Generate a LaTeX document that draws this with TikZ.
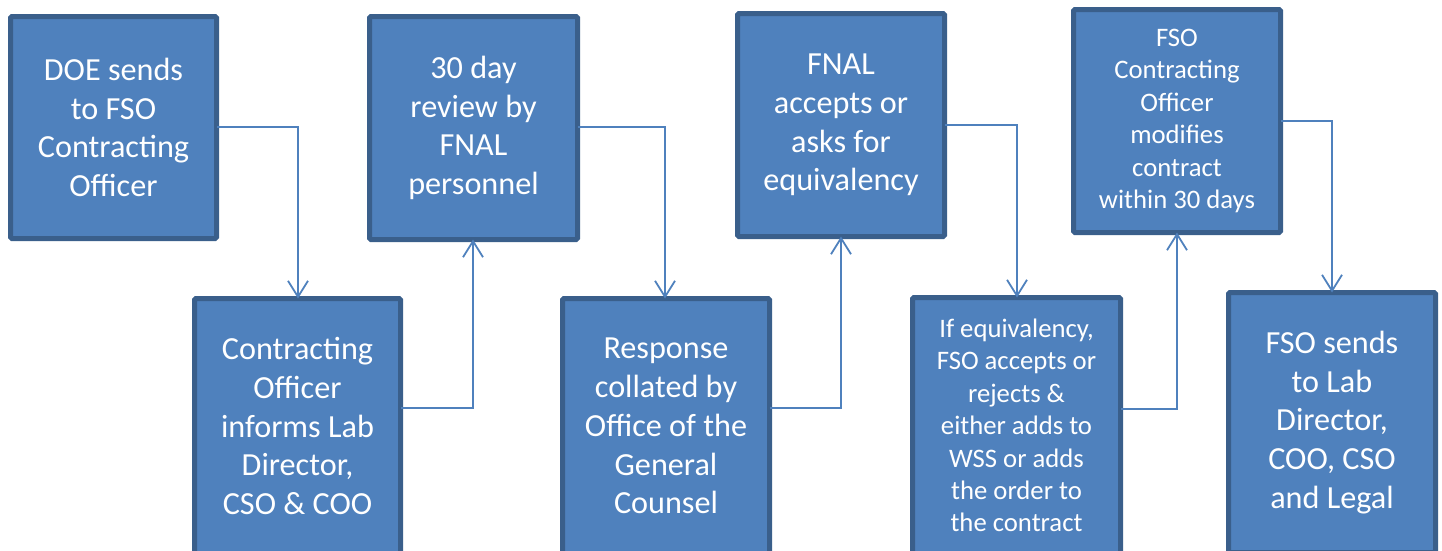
\documentclass[tikz,border=0pt]{standalone}
\usepackage{fontspec}
\setmainfont{Carlito}
\usetikzlibrary{arrows.meta}
\definecolor{boxfill}{HTML}{4F81BD}
\definecolor{boxedge}{HTML}{3A5F8B}
\definecolor{linkcol}{HTML}{4F81BD}
\tikzset{
  stepbox/.style={draw=boxedge, fill=boxfill, line width=5pt, rounded corners=1.5pt,
    text=white, align=center, inner sep=0pt, outer sep=0pt,
    font=\fontsize{32.2}{38.8}\selectfont},
  smallbox/.style={stepbox, font=\fontsize{26.7}{32.4}\selectfont},
  link/.style={draw=linkcol, line width=1.8pt,
    -{Straight Barb[length=16pt,width=20pt,line width=1.8pt]}}
}
\begin{document}
\begin{tikzpicture}[x=1pt,y=-1pt]
\useasboundingbox (0,0) rectangle (1442,550);
\clip (0,0) rectangle (1442,550);
\node[stepbox, minimum width=206pt, minimum height=222pt] (b1) at (113.5,127.5)
  {DOE sends\\to FSO\\Contracting\\Officer};
\node[stepbox, minimum width=206pt, minimum height=255pt] (b2) at (297.5,426)
  {Contracting\\Officer\\informs Lab\\Director,\\CSO \& COO};
\node[stepbox, minimum width=208pt, minimum height=223pt] (b3) at (473.5,128)
  {30 day\\review by\\FNAL\\personnel};
\node[stepbox, minimum width=207pt, minimum height=255pt] (b4) at (666,426)
  {Response\\collated by\\Office of the\\General\\Counsel};
\node[stepbox, minimum width=207pt, minimum height=223pt] (b5) at (841,125)
  {FNAL\\accepts or\\asks for\\equivalency};
\node[smallbox, minimum width=208pt, minimum height=256pt] (b6) at (1016.5,425.5)
  {If equivalency,\\FSO accepts or\\rejects \&\\either adds to\\WSS or adds\\the order to\\the contract};
\node[smallbox, minimum width=207pt, minimum height=223pt] (b7) at (1177,121)
  {FSO\\Contracting\\Officer\\modifies\\contract\\within 30 days};
\node[stepbox, minimum width=207pt, minimum height=260pt] (b8) at (1332,422.5)
  {FSO sends\\to Lab\\Director,\\COO, CSO\\and Legal};
\draw[link] (b1.east |- 0,127) -| (b2.north -| 298,0);
\draw[link] (b2.east |- 0,408) -| (b3.south -| 473,0);
\draw[link] (b3.east |- 0,127) -| (b4.north -| 665,0);
\draw[link] (b4.east |- 0,408) -| (b5.south -| 841,0);
\draw[link] (b5.east |- 0,125) -| (b6.north -| 1017,0);
\draw[link] (b6.east |- 0,409) -| (b7.south -| 1177,0);
\draw[link] (b7.east |- 0,121) -| (b8.north -| 1332,0);
\end{tikzpicture}
\end{document}
